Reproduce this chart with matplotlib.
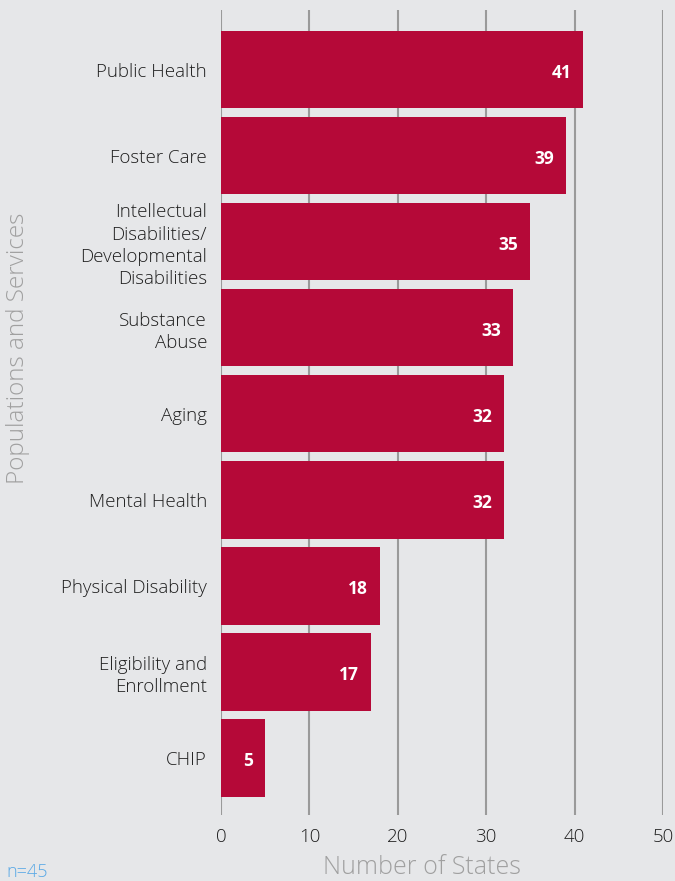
import matplotlib
matplotlib.use("Agg")
from matplotlib import pyplot as plt
from matplotlib.transforms import offset_copy

# Populations/services and how many states reported each
categories = [
    "Public Health",
    "Foster Care",
    "Intellectual\nDisabilities/\nDevelopmental\nDisabilities",
    "Substance\nAbuse",
    "Aging",
    "Mental Health",
    "Physical Disability",
    "Eligibility and\nEnrollment",
    "CHIP",
]
states = [41, 39, 35, 33, 32, 32, 18, 17, 5]
x_ticks = [0, 10, 20, 30, 40, 50]

bg = "#e6e7e9"
bar_color = "#b50938"
grid_color = "#9a9a9a"
text_color = "#1e1e1e"

plt.rcParams["font.family"] = ["Open Sans", "DejaVu Sans"]

fig = plt.figure(figsize=(6.75, 8.81), dpi=100, facecolor=bg)
ax = fig.add_axes([221 / 675, 1 - 815 / 881, 442 / 675, 805 / 881], facecolor=bg)

pos = list(range(len(categories)))
ax.barh(pos, states, height=0.9, color=bar_color, zorder=3)

ax.set_xlim(0, 50)
ax.set_ylim(8.663, -0.692)

ax.set_xticks(x_ticks)
ax.set_xticklabels([str(t) for t in x_ticks], fontsize=13.5, color=text_color,
                   fontweight="light")
ax.grid(axis="x", color=grid_color, linewidth=1.5, zorder=0)
ax.tick_params(axis="x", length=0, pad=9)

ax.set_yticks(pos)
ax.set_yticklabels(categories, fontsize=13.5, color=text_color, linespacing=1.3,
                   fontweight="light")
ax.tick_params(axis="y", length=0, pad=10)
for lbl in ax.get_yticklabels():
    lbl.set_y(lbl.get_position()[1])

for side in ["top", "right", "bottom", "left"]:
    ax.spines[side].set_visible(False)

# value labels sit just inside the bar end
for p, v in zip(pos, states):
    trans = offset_copy(ax.transData, fig=fig, x=-12, y=-3, units="dots")
    ax.text(v, p, str(v), transform=trans, ha="right", va="center",
            fontsize=12.5, fontweight="bold", color="white", zorder=4)

fig.text(18 / 675, 1 - 348 / 881, "Populations and Services", rotation=90,
         ha="center", va="center", fontsize=17.5, color="#a0a0a0",
         fontweight="light")
fig.text(422 / 675, 1 - 868 / 881, "Number of States",
         ha="center", va="center", fontsize=18, color="#a0a0a0",
         fontweight="light")
fig.text(6 / 675, 1 - 872 / 881, "n=45", ha="left", va="center",
         fontsize=13, color="#5aa9e6", fontweight="light")

fig.savefig("out.png", dpi=100, facecolor=bg)
